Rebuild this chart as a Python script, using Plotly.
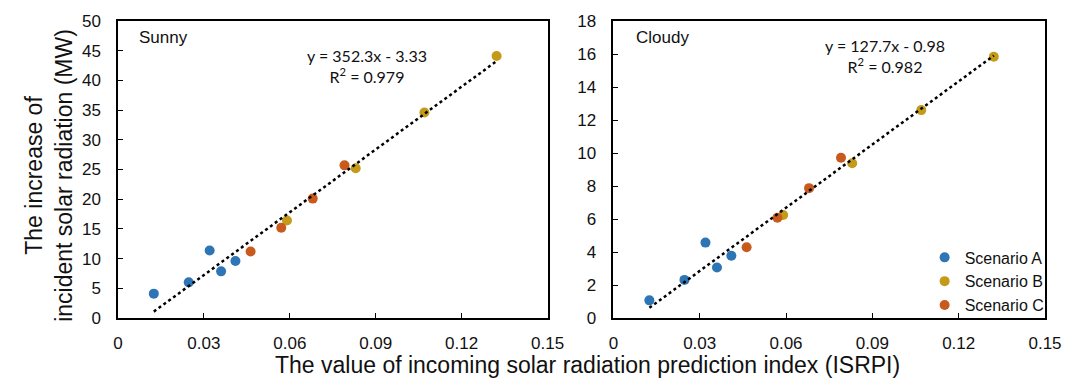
import plotly.graph_objects as go
import numpy as np

# ---- data ----
x_a = [0.0125, 0.0247, 0.0320, 0.0360, 0.0410]
x_b = [0.0590, 0.0830, 0.1070, 0.1322]
x_c = [0.0463, 0.0570, 0.0680, 0.0791]

sunny_a = [4.1, 6.0, 11.35, 7.85, 9.6]
sunny_b = [16.4, 25.2, 34.6, 44.1]
sunny_c = [11.2, 15.2, 20.1, 25.7]

cloudy_a = [1.07, 2.31, 4.57, 3.06, 3.77]
cloudy_b = [6.24, 9.38, 12.6, 15.83]
cloudy_c = [4.29, 6.08, 7.87, 9.71]

sunny_fit = (352.3, -3.33, 0.979)
cloudy_fit = (127.7, -0.98, 0.982)

scenario_names = ["Scenario A", "Scenario B", "Scenario C"]
colors = ["#2E75B6", "#C39B19", "#C85A1E"]

x_ticks = [0, 0.03, 0.06, 0.09, 0.12, 0.15]
x_tick_text = ["0", "0.03", "0.06", "0.09", "0.12", "0.15"]

fig = go.Figure()

panels = [
    ("x", "y", [sunny_a, sunny_b, sunny_c], sunny_fit, True),
    ("x2", "y2", [cloudy_a, cloudy_b, cloudy_c], cloudy_fit, False),
]
xs = [x_a, x_b, x_c]
for xr, yr, ys, fit, first in panels:
    for i in range(3):
        fig.add_trace(go.Scatter(
            x=xs[i], y=ys[i], mode="markers", name=scenario_names[i],
            marker=dict(color=colors[i], size=10, line=dict(width=0)),
            xaxis=xr, yaxis=yr, showlegend=not first, legendgroup=scenario_names[i]))
    allx = np.array(x_a + x_b + x_c)
    lx = np.array([allx.min(), allx.max()])
    ly = fit[0] * lx + fit[1]
    fig.add_trace(go.Scatter(x=lx, y=ly, mode="lines", showlegend=False,
                             line=dict(color="black", width=2.5, dash="dot"),
                             xaxis=xr, yaxis=yr, hoverinfo="skip"))

axis_common = dict(showline=True, linecolor="black", linewidth=1.5, mirror=True,
                   ticks="inside", ticklen=5, tickcolor="black", tickwidth=1.2,
                   showgrid=False, zeroline=False,
                   tickfont=dict(family="Liberation Sans, Arial", size=17, color="#111"))

fig.update_layout(
    width=1074, height=391,
    margin=dict(l=118, r=26, t=16, b=73),
    plot_bgcolor="white", paper_bgcolor="white",
    xaxis=dict(domain=[0, 0.4634], range=[0, 0.15], tickvals=x_ticks, ticktext=x_tick_text,
               ticklabelstandoff=9, **axis_common),
    yaxis=dict(range=[0, 50], dtick=5, ticklabelstandoff=12, **axis_common),
    xaxis2=dict(domain=[0.5344, 1], range=[0, 0.15], tickvals=x_ticks, ticktext=x_tick_text,
                anchor="y2", ticklabelstandoff=9, **axis_common),
    yaxis2=dict(range=[0, 18], dtick=2, anchor="x2", ticklabelstandoff=12, **axis_common),
    legend=dict(x=1.005, xanchor="right", y=-0.015, yanchor="bottom", bgcolor="rgba(0,0,0,0)",
                font=dict(family="Liberation Sans, Arial", size=16, color="#111"),
                itemwidth=30, tracegroupgap=0),
    showlegend=True,
)

ann_font = dict(family="Lato, Carlito, Calibri", size=16, color="#111")
label_font = dict(family="Liberation Sans, Arial", size=17, color="#111")
fig.add_annotation(text="Sunny", xref="x domain", yref="y domain", x=0.045, y=0.946,
                   xanchor="left", yanchor="middle", showarrow=False, font=label_font)
fig.add_annotation(text="Cloudy", xref="x2 domain", yref="y2 domain", x=0.048, y=0.946,
                   xanchor="left", yanchor="middle", showarrow=False, font=label_font)
fig.add_annotation(text=f"y = {sunny_fit[0]}x - {abs(sunny_fit[1])}<br>R<sup>2</sup> = {sunny_fit[2]}",
                   xref="x domain", yref="y domain", x=0.58, y=0.85, align="center",
                   xanchor="center", yanchor="middle", showarrow=False, font=ann_font)
fig.add_annotation(text=f"y = {cloudy_fit[0]}x - {abs(cloudy_fit[1])}<br>R<sup>2</sup> = {cloudy_fit[2]}",
                   xref="x2 domain", yref="y2 domain", x=0.63, y=0.882, align="center",
                   xanchor="center", yanchor="middle", showarrow=False, font=ann_font)
title_font = dict(family="Liberation Sans, Arial", size=23, color="#111")
fig.add_annotation(text="The increase of<br>incident solar radiation (MW)", xref="paper", yref="paper",
                   x=-0.074, y=0.48, textangle=-90, xanchor="center", yanchor="middle",
                   showarrow=False, font=title_font)
fig.add_annotation(text="The value of incoming solar radiation prediction index (ISRPI)",
                   xref="paper", yref="paper", x=0.506, y=-0.159, xanchor="center",
                   yanchor="middle", showarrow=False, font=title_font)

fig.write_html("out.html", config={"displayModeBar": False},
               post_script="document.body.style.margin='0';")
